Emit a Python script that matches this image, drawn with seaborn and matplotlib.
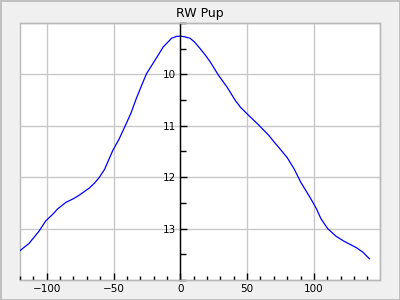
import matplotlib
matplotlib.use("Agg")
import matplotlib.pyplot as plt
import seaborn as sns
import pandas as pd
from matplotlib.ticker import MultipleLocator

phase = [-120, -113.3, -106, -100.7, -95, -91.9, -85.6, -80, -75.6, -68, -64,
         -60.5, -56.7, -50.5, -46, -41.7, -37, -32.9, -29, -25.3, -19, -12.8,
         -6.5, -3, 0, 3, 7.3, 10.5, 14.8, 18.5, 22.4, 28.6, 35, 41.2, 45, 50,
         54, 58.8, 66.3, 70, 74.6, 80, 85.2, 90.2, 97.7, 102, 105.3, 110.3,
         116.6, 122.8, 131.7, 136.7, 141.7]
mag = [13.43, 13.29, 13.06, 12.85, 12.71, 12.62, 12.49, 12.42, 12.35, 12.21,
       12.11, 12.0, 11.85, 11.48, 11.27, 11.03, 10.76, 10.47, 10.22, 9.99,
       9.73, 9.47, 9.30, 9.265, 9.26, 9.27, 9.30, 9.37, 9.5, 9.62, 9.76,
       10.02, 10.25, 10.51, 10.64, 10.77, 10.87, 10.99, 11.19, 11.31, 11.45,
       11.62, 11.84, 12.10, 12.42, 12.62, 12.81, 13.0, 13.15, 13.25, 13.37,
       13.46, 13.59]
title = "RW Pup"

df = pd.DataFrame({"phase": phase, "mag": mag})

sns.set_style("white")
plt.rcParams['font.family'] = ['DejaVu Sans']

fig = plt.figure(figsize=(4, 3), dpi=100, facecolor="#f0f0f0",
                 edgecolor="#c0c0c0", linewidth=1)
ax = fig.add_axes([0.05, 0.0667, 0.9, 0.8573])
sns.lineplot(data=df, x="phase", y="mag", ax=ax, color="#0000ff", linewidth=0.9)

ax.set_xlim(-120, 149.5)
ax.set_ylim(14, 9)
ax.xaxis.set_major_locator(MultipleLocator(50))
ax.xaxis.set_minor_locator(MultipleLocator(10))
ax.yaxis.set_minor_locator(MultipleLocator(0.5))
ax.set_yticks([10, 11, 12, 13])
ax.grid(True, which="major", color="#c8c8c8", linewidth=1)
ax.set_axisbelow(True)

for s in ["top", "right", "bottom"]:
    ax.spines[s].set_color("#b8b8b8")
    ax.spines[s].set_linewidth(1)
ax.spines["left"].set_position(("data", 0))
ax.spines["left"].set_color("black")
ax.spines["left"].set_linewidth(1)
ax.patch.set_edgecolor("#b8b8b8")
ax.patch.set_linewidth(1)

ax.tick_params(axis="x", which="both", bottom=True, top=False)
ax.tick_params(axis="y", which="both", left=True, right=False)
ax.tick_params(axis="x", which="major", direction="in", length=5, width=1,
               labelsize=7.5, pad=3, color="black", labelcolor="black")
ax.tick_params(axis="x", which="minor", direction="in", length=3, width=1,
               color="black")
ax.tick_params(axis="y", which="major", direction="in", length=5, width=1,
               labelsize=7.5, pad=3, color="black", labelcolor="black")
ax.tick_params(axis="y", which="minor", direction="in", length=4, width=1,
               color="black")
ax.set_xlabel("")
ax.set_ylabel("")
ax.set_title(title, fontsize=9, pad=4, color="black")

fig.savefig("out.png", dpi=100, facecolor=fig.get_facecolor(),
            edgecolor=fig.get_edgecolor())
